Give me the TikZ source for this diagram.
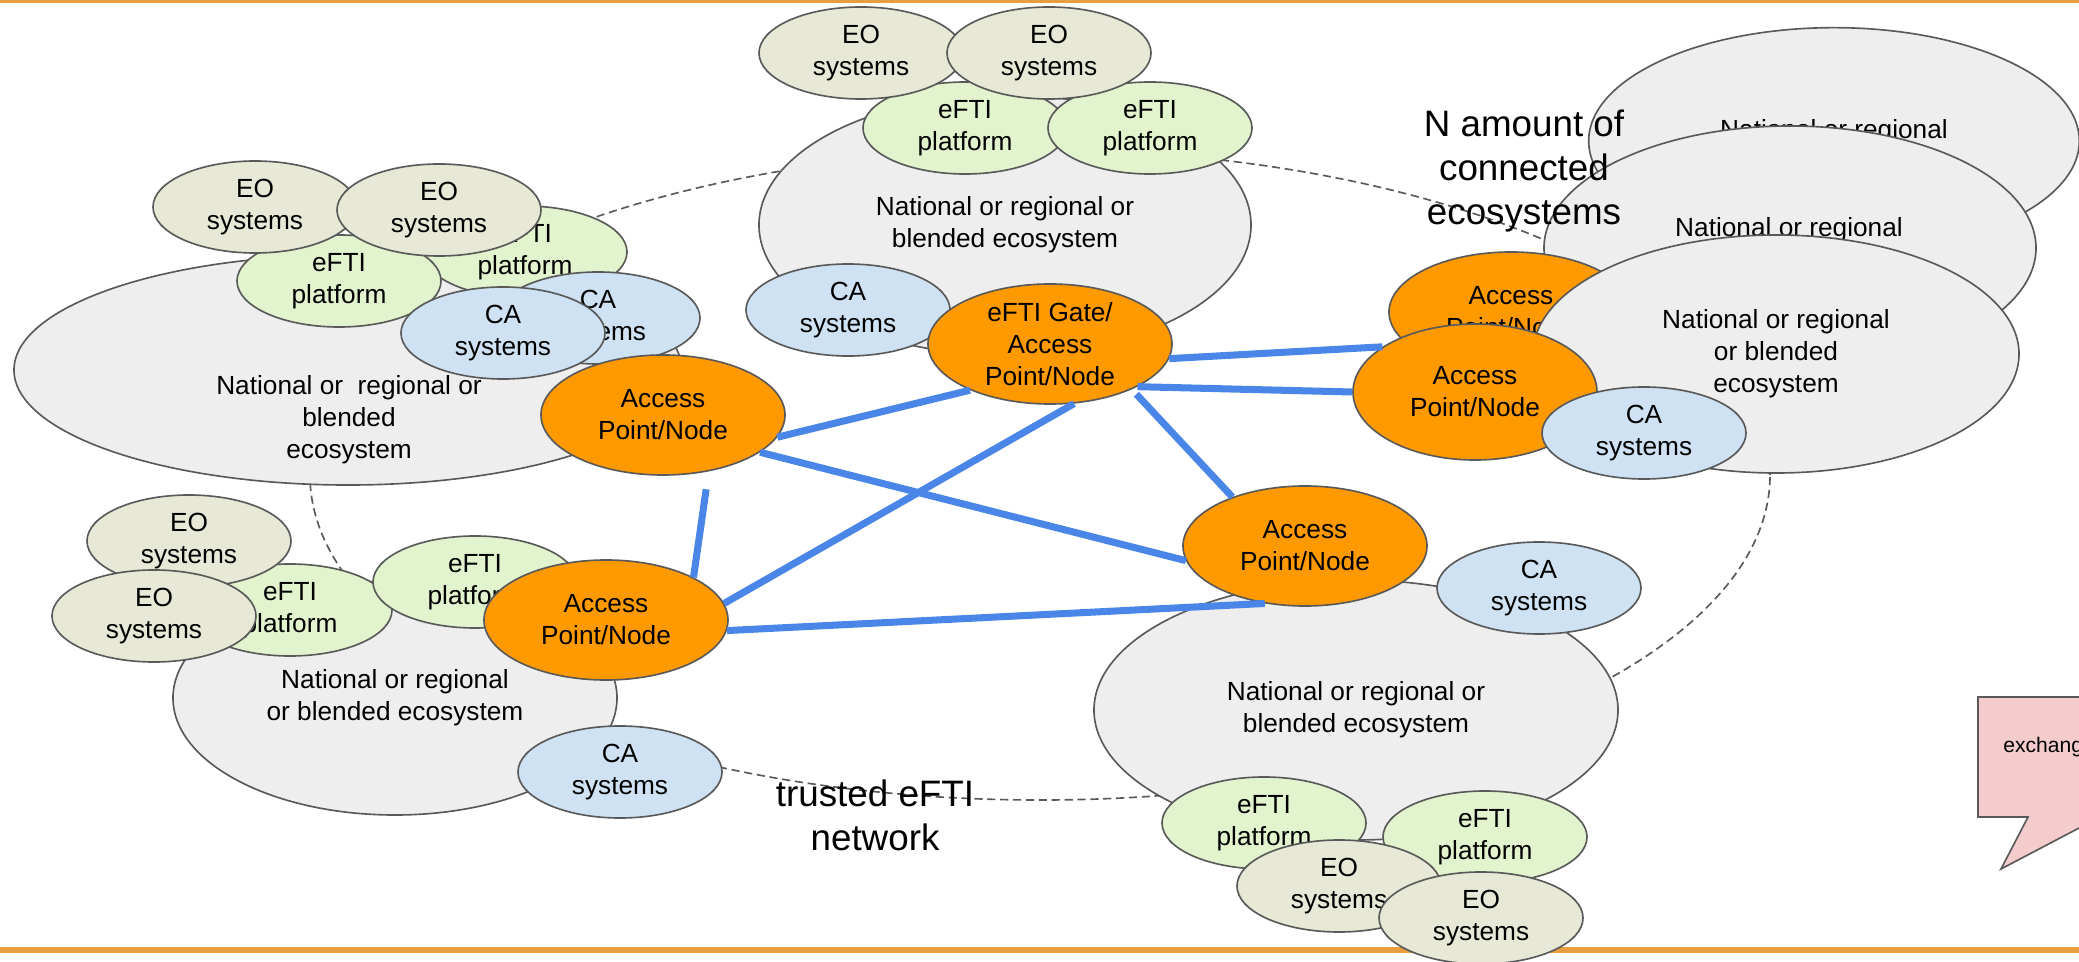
\documentclass[tikz,border=0pt]{standalone}
\usepackage{fontspec}
\setmainfont{Liberation Sans}
\usepackage{xcolor}
\usetikzlibrary{shapes.geometric}

\definecolor{ecogray}{RGB}{238,238,238}
\definecolor{eofill}{RGB}{231,232,214}
\definecolor{eftifill}{RGB}{225,244,205}
\definecolor{cafill}{RGB}{207,226,243}
\definecolor{apfill}{RGB}{255,153,0}
\definecolor{linkblue}{RGB}{74,134,232}
\definecolor{rimgray}{RGB}{89,89,89}
\definecolor{barorange}{RGB}{230,158,64}
\definecolor{notepink}{RGB}{244,204,204}

\tikzset{
  blob/.style={draw=rimgray, line width=0.7pt, ellipse, inner sep=0pt, align=center,
    font=\fontsize{11.2}{13.6}\selectfont},
  small/.style={blob, minimum width=3.06cm, minimum height=1.38cm},
  eo/.style={small, fill=eofill},
  efti/.style={small, fill=eftifill},
  ca/.style={small, fill=cafill},
  ap/.style={blob, fill=apfill, minimum width=3.66cm, minimum height=1.8cm},
  eco/.style={blob, fill=ecogray},
  plain/.style={align=center, font=\fontsize{11.2}{13.6}\selectfont},
  bigtext/.style={align=center, font=\fontsize{15.7}{18.8}\selectfont},
  link/.style={draw=linkblue, line width=3pt},
  ring/.style={draw=rimgray, line width=0.7pt, dash pattern=on 3.5pt off 2pt},
  bar/.style={draw=barorange, line width=2.6pt}
}

\begin{document}
\begin{tikzpicture}[x=0.015cm, y=-0.015cm]
        \useasboundingbox (0,0) rectangle (2079,962);
        \clip (0,0) rectangle (2079,962);
        % frame bars
        \coordinate (topleft) at (0,0);
        \coordinate (topright) at (2079,0);
        \coordinate (botleft) at (0,950);
        \coordinate (botright) at (2079,950);
        \draw[bar] (topleft) -- (topright);
        \draw[bar] (botleft) -- (botright);
        % trusted network ring
        \coordinate (ringcentre) at (1040,475);
        \draw[ring] (ringcentre) ellipse [x radius=10.95cm, y radius=4.875cm];
        % callout
        \draw[draw=rimgray, line width=0.7pt, fill=notepink] (1978,697) -- (2140,697) -- (2140,817) -- (2100,817) -- (2001,869) -- (2028,817) -- (1978,817) -- cycle;
        \node[anchor=west, font=\fontsize{9}{11}\selectfont] (notetxt) at (1995,747) {exchang};

        % nodes: right stack
        \node[eco, minimum width=7.36cm, minimum height=3.4cm] (ecoR3) at (1834,141) {};
        \node[plain] (ecoR3txt) at (1834,132) {National or regional};
        \node[eco, minimum width=7.38cm, minimum height=3.66cm] (ecoR2) at (1790,248) {};
        \node[plain] (ecoR2txt) at (1789,230) {National or regional};
        \node[ap] (apRb) at (1511,312) {Access\\Point/Node};
        \node[eco, minimum width=7.29cm, minimum height=3.57cm] (ecoR1) at (1776,354) {National or regional\\or blended\\ecosystem};
        \node[ap, minimum height=2.04cm] (apR) at (1475,392) {Access\\Point/Node};
        \node[ca] (caR) at (1644,433) {CA\\systems};

        % nodes: top centre
        \node[eco, minimum width=7.38cm, minimum height=3.9cm] (ecoC) at (1005,225) {National or regional or\\blended ecosystem};
        \node[ca] (caC) at (848,310) {CA\\systems};
        \node[efti] (eftiC1) at (965,128) {eFTI\\platform};
        \node[efti] (eftiC2) at (1150,128) {eFTI\\platform};
        \node[eo] (eoC1) at (861,53) {EO\\systems};
        \node[eo] (eoC2) at (1049,53) {EO\\systems};
        \node[ap] (gate) at (1050,344) {eFTI Gate/\\Access\\Point/Node};

        % nodes: left
        \node[eco, minimum width=10.02cm, minimum height=3.45cm] (ecoL) at (348,370) {};
        \node[plain] (ecoLtxt) at (349,420) {National or~~regional or\\blended\\ecosystem};
        \node[efti] (eftiL2) at (525,252) {eFTI\\platform};
        \node[efti] (eftiL1) at (339,281) {eFTI\\platform};
        \node[ca] (caL1) at (598,318) {CA\\systems};
        \node[ca] (caL2) at (503,333) {CA\\systems};
        \node[eo] (eoL1) at (255,207) {EO\\systems};
        \node[eo] (eoL2) at (439,210) {EO\\systems};
        \node[ap] (apL) at (663,415) {Access\\Point/Node};

        % nodes: bottom left
        \node[eco, minimum width=6.66cm, minimum height=3.51cm] (ecoBL) at (395,698) {National or regional\\or blended ecosystem};
        \node[efti] (eftiBL1) at (290,610) {eFTI\\platform};
        \node[efti] (eftiBL2) at (475,582) {eFTI\\platform};
        \node[eo] (eoBL1) at (189,541) {EO\\systems};
        \node[eo] (eoBL2) at (154,616) {EO\\systems};
        \node[ap] (apBL) at (606,620) {Access\\Point/Node};
        \node[ca] (caBL) at (620,772) {CA\\systems};

        % nodes: bottom right
        \node[eco, minimum width=7.86cm, minimum height=3.9cm] (ecoBR) at (1356,710) {National or regional or\\blended ecosystem};
        \node[ap] (apBR) at (1305,546) {Access\\Point/Node};
        \node[ca] (caBR) at (1539,588) {CA\\systems};
        \node[efti] (eftiBR1) at (1264,823) {eFTI\\platform};
        \node[efti] (eftiBR2) at (1485,837) {eFTI\\platform};
        \node[eo] (eoBR1) at (1339,886) {EO\\systems};
        \node[eo] (eoBR2) at (1481,918) {EO\\systems};

        % labels
        \node[bigtext] (namount) at (1524,171) {N amount of\\connected\\ecosystems};
        \node[bigtext] (trusted) at (875,815) {trusted eFTI\\network};

        % links
        \draw[link] (apL.-11) -- (gate.210);
        \draw[link] (apL.-21) -- (apBR.187);
        \draw[link] (gate.-68) -- (apBL.8);
        \draw[link] (apBL.-5) -- (apBR.235);
        \draw[link, shorten <=0.27cm] (apL.-51) -- (apBL.26);
        \draw[link, shorten <=0.1cm] (gate.-29) -- (apBR.146);
        \draw[link] (gate.-7) -- (apR.154);
        \draw[link] (gate.-26) -- (apR.180);
    \end{tikzpicture}
\end{document}
